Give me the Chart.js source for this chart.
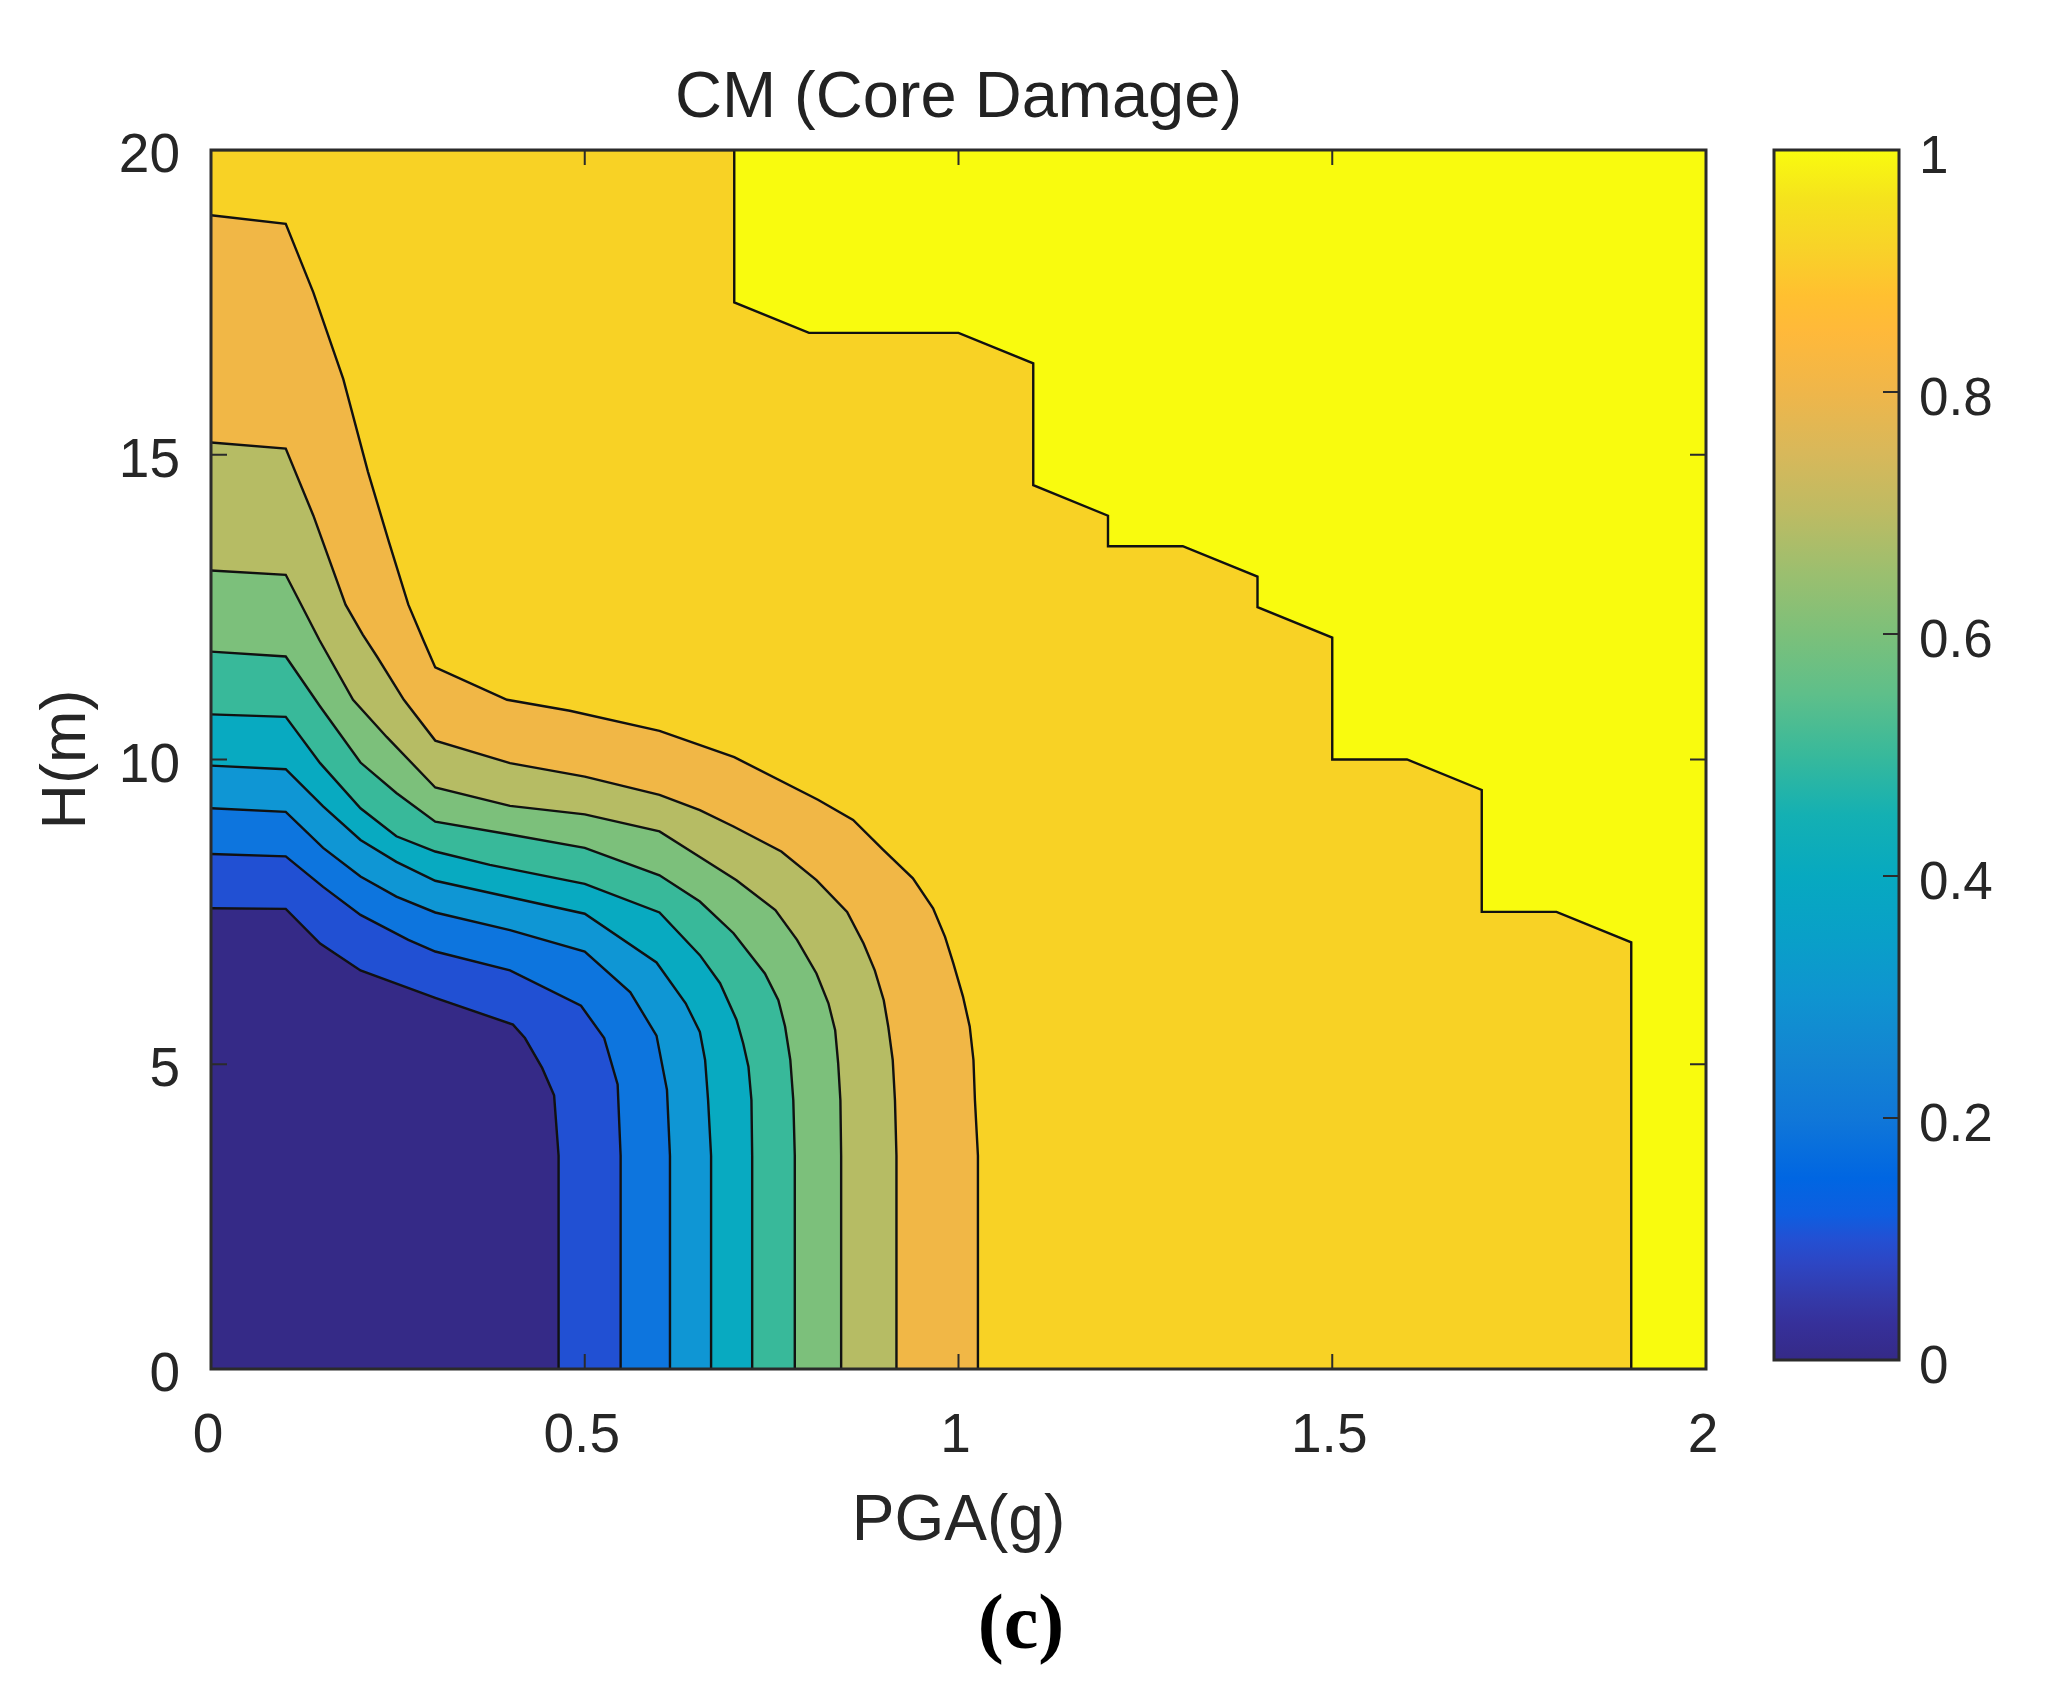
<!DOCTYPE html>
<html>
<head>
<meta charset="utf-8">
<title>CM (Core Damage)</title>
<script src="https://cdn.jsdelivr.net/npm/chart.js@4"></script>
<style>
  html,body{margin:0;padding:0;background:#fff;}
  #wrap{position:relative;width:2048px;height:1700px;overflow:hidden;}
  canvas{position:absolute;top:0;}
  #main{left:0;}
  #cbar{left:1720px;}
  #caption{position:absolute;left:921px;width:200px;top:1577px;text-align:center;
    font:bold 78px "Liberation Serif",serif;line-height:90px;color:#000;}
</style>
</head>
<body>
<div id="wrap">
  <canvas id="main" width="2048" height="1700"></canvas>
  <canvas id="cbar" width="328" height="1700"></canvas>
  <div id="caption">(c)</div>
</div>
<script>
const chartTitle='CM (Core Damage)';
const xTitle='PGA(g)';
const yTitle='H(m)';
const xTicks=[0,0.5,1,1.5,2];
const yTicks=[0,5,10,15,20];
const barTicks=[0,0.2,0.4,0.6,0.8,1];

// contour lines, [PGA, H], lowest level first
const level0=[[0,7.56],[0.1,7.55],[0.146,6.98],[0.2,6.54],[0.3,6.09],[0.404,5.65],[0.42,5.43],[0.443,4.94],[0.459,4.49],[0.465,3.5],[0.465,0]];
const level1=[[0,8.45],[0.1,8.41],[0.15,7.91],[0.2,7.45],[0.264,7.04],[0.3,6.85],[0.4,6.54],[0.495,5.96],[0.526,5.43],[0.544,4.67],[0.548,3.5],[0.548,0]];
const level2=[[0,9.2],[0.1,9.14],[0.15,8.55],[0.2,8.08],[0.248,7.75],[0.3,7.49],[0.4,7.2],[0.5,6.85],[0.561,6.18],[0.596,5.47],[0.61,4.58],[0.614,3.5],[0.614,0]];
const level3=[[0,9.9],[0.1,9.84],[0.15,9.23],[0.2,8.68],[0.248,8.32],[0.3,8.01],[0.4,7.74],[0.5,7.47],[0.596,6.67],[0.635,6],[0.654,5.53],[0.661,5.07],[0.665,4.41],[0.669,3.5],[0.669,0]];
const level4=[[0,10.74],[0.1,10.7],[0.146,9.94],[0.2,9.2],[0.248,8.74],[0.3,8.49],[0.373,8.27],[0.5,7.96],[0.6,7.49],[0.654,6.79],[0.681,6.33],[0.703,5.73],[0.712,5.34],[0.719,4.96],[0.723,4.41],[0.724,3.5],[0.724,0]];
const level5=[[0,11.77],[0.1,11.69],[0.146,10.87],[0.2,9.95],[0.248,9.45],[0.3,8.98],[0.4,8.77],[0.5,8.55],[0.6,8.1],[0.654,7.67],[0.699,7.15],[0.741,6.49],[0.759,6.05],[0.768,5.62],[0.775,5.07],[0.779,4.41],[0.781,3.5],[0.781,0]];
const level6=[[0,13.1],[0.1,13.03],[0.145,11.96],[0.19,10.98],[0.235,10.37],[0.3,9.54],[0.4,9.24],[0.5,9.1],[0.6,8.82],[0.654,8.4],[0.703,8.02],[0.755,7.53],[0.784,7.04],[0.81,6.49],[0.826,6],[0.835,5.56],[0.839,5.02],[0.842,4.41],[0.843,3.5],[0.843,0]];
const level7=[[0,15.2],[0.1,15.1],[0.137,14],[0.18,12.54],[0.203,12.05],[0.222,11.69],[0.258,10.98],[0.3,10.31],[0.4,9.94],[0.5,9.72],[0.6,9.42],[0.654,9.17],[0.699,8.9],[0.763,8.49],[0.81,8.02],[0.851,7.5],[0.873,6.98],[0.888,6.54],[0.9,6.05],[0.906,5.62],[0.912,5.07],[0.915,4.41],[0.917,3.5],[0.917,0]];
const level8=[[0,18.93],[0.1,18.79],[0.137,17.66],[0.177,16.24],[0.21,14.72],[0.238,13.57],[0.264,12.54],[0.284,11.96],[0.3,11.51],[0.396,10.98],[0.48,10.8],[0.6,10.47],[0.7,10.04],[0.812,9.34],[0.859,9.01],[0.899,8.52],[0.939,8.05],[0.966,7.56],[0.982,7.09],[0.993,6.66],[1.006,6.11],[1.015,5.62],[1.02,5.07],[1.022,4.41],[1.026,3.5],[1.026,0]];
const level9=[[0,20],[0.7,20],[0.7,17.5],[0.8,17],[1,17],[1.1,16.5],[1.1,14.5],[1.2,14],[1.2,13.5],[1.3,13.5],[1.4,13],[1.4,12.5],[1.5,12],[1.5,10],[1.6,10],[1.7,9.5],[1.7,7.5],[1.8,7.5],[1.9,7],[1.9,0]];
const topEdge=[[0,20],[2,20]];

const levels=[level0,level1,level2,level3,level4,level5,level6,level7,level8,level9,topEdge];
const bandColors=['#352a87','#2150d3','#0d75de','#0f96d4','#08aac1','#38b99a','#7cc07b','#b6bc64','#f1b746','#f8d225','#f9fb0e'];

// colorbar colours, bottom to top
const barStops=[0,0.03,0.05,0.08,0.1,0.12,0.15,0.2,0.25,0.3,0.35,0.4,0.45,0.5,0.55,0.6,0.65,0.7,0.75,0.8,0.85,0.88,0.92,0.96,1];
const barColors=['#352a87','#36309a','#3439a8','#2d46c4','#2350d3','#0e5ee0','#0066e2','#1077d8','#1385d2','#0f94d0','#09a0c8','#07a9c0','#14b0b3','#38b99b','#5ebf8a','#7cc07a','#9bbf6f','#bdbb63','#d8b85a','#efb64a','#ffb93a','#ffc030','#f8d328','#f5e31d','#f9fb0e'];

const fontFamily='"Liberation Sans",Arial,sans-serif';
const inkColor='#262626';

// MATLAB style box with ticks pointing inward
function boxPlugin(sides){
  return {
    id:'box',
    afterDatasetsDraw(chart){
      const {ctx,chartArea:a}=chart;
      ctx.save();
      ctx.strokeStyle='#2b2b2b';
      ctx.lineWidth=2;
      sides.forEach(s=>{
        s.values.forEach(v=>{
          const p=chart.scales[s.axis].getPixelForValue(v);
          ctx.beginPath();
          if(s.axis==='x'){
            ctx.moveTo(p,a.bottom); ctx.lineTo(p,a.bottom-15);
            ctx.moveTo(p,a.top); ctx.lineTo(p,a.top+15);
          }else{
            if(s.left){ ctx.moveTo(a.left,p); ctx.lineTo(a.left+16,p); }
            ctx.moveTo(a.right,p); ctx.lineTo(a.right-16,p);
          }
          ctx.stroke();
        });
      });
      ctx.lineWidth=3;
      ctx.strokeRect(a.left,a.top,a.right-a.left,a.bottom-a.top);
      ctx.restore();
    }
  };
}

new Chart(document.getElementById('main'),{
  type:'scatter',
  data:{
    datasets:levels.map((pts,i)=>({
      data:pts.map(p=>({x:p[0],y:p[1]})),
      showLine:true,
      fill:'origin',
      backgroundColor:bandColors[i],
      borderColor:'#111',
      borderWidth:pts===topEdge?0:2.4,
      pointRadius:0,
      tension:0
    }))
  },
  options:{
    responsive:false,
    devicePixelRatio:1,
    animation:false,
    layout:{padding:{left:0,top:0,right:342,bottom:139}},
    plugins:{
      legend:{display:false},
      tooltip:{enabled:false},
      title:{
        display:true,
        fullSize:false,
        text:chartTitle,
        color:'#222',
        font:{family:fontFamily,size:65,weight:'normal',lineHeight:1.2},
        padding:{top:60,bottom:12}
      }
    },
    scales:{
      x:{
        type:'linear',min:0,max:2,
        afterBuildTicks:s=>{s.ticks=xTicks.map(v=>({value:v}));},
        afterFit:s=>{s.height=192;},
        grid:{display:false,drawTicks:false},
        border:{display:false},
        ticks:{color:inkColor,padding:35,labelOffset:-3,maxRotation:0,
          font:{family:fontFamily,size:55,lineHeight:1.2},callback:v=>String(v)},
        title:{display:true,text:xTitle,color:inkColor,padding:0,
          font:{family:fontFamily,size:64,lineHeight:1.2}}
      },
      y:{
        type:'linear',min:0,max:20,
        afterBuildTicks:s=>{s.ticks=yTicks.map(v=>({value:v}));},
        afterFit:s=>{s.width=211;},
        grid:{display:false,drawTicks:false},
        border:{display:false},
        ticks:{color:inkColor,padding:31,labelOffset:7,
          font:{family:fontFamily,size:55,lineHeight:1.2},callback:v=>String(v)},
        title:{display:true,text:yTitle,color:inkColor,padding:{top:30,bottom:0},
          font:{family:fontFamily,size:63,lineHeight:1.2}}
      }
    }
  },
  plugins:[boxPlugin([{axis:'x',values:xTicks},{axis:'y',values:yTicks,left:true}])]
});

function barGradient(c){
  const chart=c.chart;
  if(!chart.chartArea) return barColors[0];
  const y=chart.scales.y;
  const g=chart.ctx.createLinearGradient(0,y.getPixelForValue(0),0,y.getPixelForValue(1));
  barStops.forEach((s,i)=>g.addColorStop(s,barColors[i]));
  return g;
}

new Chart(document.getElementById('cbar'),{
  type:'bar',
  data:{labels:[''],datasets:[{data:[[0,1]],backgroundColor:barGradient,borderWidth:0,
    barPercentage:1,categoryPercentage:1}]},
  options:{
    responsive:false,
    devicePixelRatio:1,
    animation:false,
    layout:{padding:{left:54,top:150,right:0,bottom:340}},
    plugins:{legend:{display:false},tooltip:{enabled:false}},
    scales:{
      x:{display:false},
      y:{
        type:'linear',position:'right',min:0,max:1,
        afterBuildTicks:s=>{s.ticks=barTicks.map(v=>({value:v}));},
        afterFit:s=>{s.width=149;},
        grid:{display:false,drawTicks:false},
        border:{display:false},
        ticks:{color:inkColor,padding:20,labelOffset:8,
          font:{family:fontFamily,size:53,lineHeight:1.2},callback:v=>String(v)}
      }
    }
  },
  plugins:[boxPlugin([{axis:'y',values:barTicks,left:false}])]
});
</script>
</body>
</html>
